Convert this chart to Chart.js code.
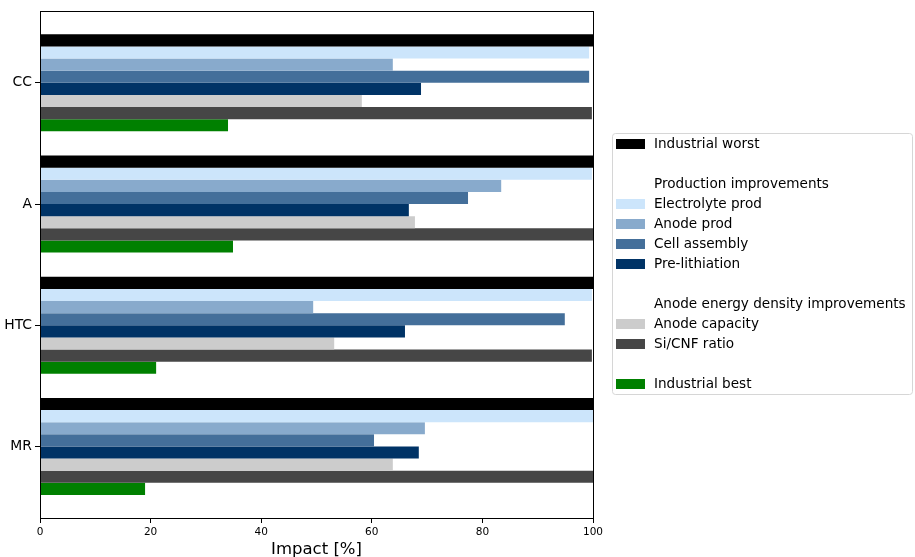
<!DOCTYPE html>
<html>
<head>
<meta charset="utf-8">
<title>Impact by scenario</title>
<script src="https://cdn.jsdelivr.net/npm/chart.js@4/dist/chart.umd.min.js"></script>
<style>
  html, body { margin: 0; padding: 0; background: #ffffff; }
  #wrap { width: 915px; height: 557px; position: relative; }
</style>
</head>
<body>
<div id="wrap"><canvas id="chart" width="915" height="557"></canvas></div>
<script>
// Scenarios on the vertical axis
const categories = ['CC', 'A', 'HTC', 'MR'];

// Relative impact [%] for each scenario
const industrialWorst = [100, 100, 100, 100];
const electrolyteProd = [99.3, 99.8, 99.8, 100];
const anodeProd = [63.8, 83.4, 49.4, 69.6];
const cellAssembly = [99.3, 77.4, 94.9, 60.4];
const preLithiation = [68.9, 66.7, 66.0, 68.5];
const anodeCapacity = [58.2, 67.8, 53.2, 63.8];
const siCnfRatio = [99.8, 100, 99.8, 100];
const industrialBest = [34.0, 34.9, 21.0, 19.0];

// Impact axis ticks
const xTicks = [0, 20, 40, 60, 80, 100];

const FONT = "'DejaVu Sans', 'Liberation Sans', sans-serif";

// Category scale with extra room above the first and below the last group
const BaseCategory = Chart.registry.getScale('category');
class MarginCategoryScale extends BaseCategory {
  buildTicks() {
    const ticks = super.buildTicks();
    const m = this.options.margin || 0;
    this._startValue -= m;
    this._valueRange += 2 * m;
    return ticks;
  }
}
MarginCategoryScale.id = 'marginCategory';
MarginCategoryScale.defaults = BaseCategory.defaults;
Chart.register(MarginCategoryScale);

const datasets = [
  { label: 'Industrial worst', data: industrialWorst, backgroundColor: '#000000' },
  { label: 'Electrolyte prod', data: electrolyteProd, backgroundColor: '#cce5fb' },
  { label: 'Anode prod', data: anodeProd, backgroundColor: '#88aacc' },
  { label: 'Cell assembly', data: cellAssembly, backgroundColor: '#446f9a' },
  { label: 'Pre-lithiation', data: preLithiation, backgroundColor: '#003366' },
  { label: 'Anode capacity', data: anodeCapacity, backgroundColor: '#cccccc' },
  { label: 'Si/CNF ratio', data: siCnfRatio, backgroundColor: '#464646' },
  { label: 'Industrial best', data: industrialBest, backgroundColor: '#008000' }
];

// Grouped legend rows: dataset index, group heading, or empty spacer
const legendRows = [
  { ds: 0 },
  { blank: true },
  { heading: 'Production improvements' },
  { ds: 1 }, { ds: 2 }, { ds: 3 }, { ds: 4 },
  { blank: true },
  { heading: 'Anode energy density improvements' },
  { ds: 5 }, { ds: 6 },
  { blank: true },
  { ds: 7 }
];

// Frame around the plotting area
const framePlugin = {
  id: 'frame',
  afterDatasetsDraw(chart) {
    const a = chart.chartArea;
    const ctx = chart.ctx;
    ctx.save();
    ctx.strokeStyle = '#000000';
    ctx.lineWidth = 1;
    ctx.strokeRect(Math.round(a.left) + 0.5, Math.round(a.top) + 0.5,
                   Math.round(a.right - a.left), Math.round(a.bottom - a.top));
    ctx.restore();
  }
};

// Boxed legend to the right of the plot, vertically centred on it
const groupedLegend = {
  id: 'groupedLegend',
  afterDraw(chart) {
    const a = chart.chartArea;
    const ctx = chart.ctx;
    const rowH = 20;
    const boxW = 300;
    const boxH = legendRows.length * rowH + 1;
    const left = Math.round(a.right) + 19;
    const top = Math.round((a.top + a.bottom) / 2 - boxH / 2) - 1;
    ctx.save();
    // frame
    ctx.beginPath();
    ctx.roundRect(left + 0.5, top + 0.5, boxW, boxH, 3);
    ctx.fillStyle = 'rgba(255,255,255,0.8)';
    ctx.fill();
    ctx.strokeStyle = '#d6d6d6';
    ctx.lineWidth = 1;
    ctx.stroke();
    // rows
    ctx.font = '13.6px ' + FONT;
    ctx.textBaseline = 'middle';
    ctx.textAlign = 'left';
    legendRows.forEach((row, i) => {
      const cy = top + 11 + i * rowH;
      if (row.blank) return;
      let text = row.heading;
      if (row.ds !== undefined) {
        const ds = chart.data.datasets[row.ds];
        text = ds.label;
        ctx.fillStyle = ds.backgroundColor;
        ctx.fillRect(left + 4, cy - 5, 29, 10);
      }
      ctx.fillStyle = '#000000';
      ctx.fillText(text, left + 42, cy + 0.5);
    });
    ctx.restore();
  }
};

new Chart(document.getElementById('chart'), {
  type: 'bar',
  data: { labels: categories, datasets },
  options: {
    indexAxis: 'y',
    responsive: false,
    animation: false,
    devicePixelRatio: 1,
    layout: { padding: { top: 9, right: 322, left: 0, bottom: 0 } },
    datasets: {
      bar: { barPercentage: 1.0, categoryPercentage: 0.8, borderWidth: 0 }
    },
    plugins: {
      legend: { display: false },
      tooltip: { enabled: false }
    },
    scales: {
      x: {
        type: 'linear',
        min: 0,
        max: 100,
        afterBuildTicks(scale) {
          scale.ticks = xTicks.map(v => ({ value: v }));
        },
        afterFit(scale) { scale.height = 39; },
        grid: { display: true, drawOnChartArea: false, drawTicks: true, tickLength: 5, color: '#000000' },
        border: { display: true, color: '#000000', width: 1 },
        ticks: { color: '#000000', font: { family: FONT, size: 10.5 }, padding: 3, maxRotation: 0 },
        title: {
          display: true,
          text: 'Impact [%]',
          color: '#000000',
          font: { family: FONT, size: 16.5 },
          padding: { top: 0, bottom: -3 }
        }
      },
      y: {
        type: 'marginCategory',
        offset: true,
        margin: 0.09,
        afterFit(scale) { scale.width = 40; },
        grid: { display: true, drawOnChartArea: false, drawTicks: true, tickLength: 5, color: '#000000', offset: false },
        border: { display: true, color: '#000000', width: 1 },
        ticks: { color: '#000000', font: { family: FONT, size: 13.9 }, padding: 3 }
      }
    }
  },
  plugins: [framePlugin, groupedLegend]
});
</script>
</body>
</html>
